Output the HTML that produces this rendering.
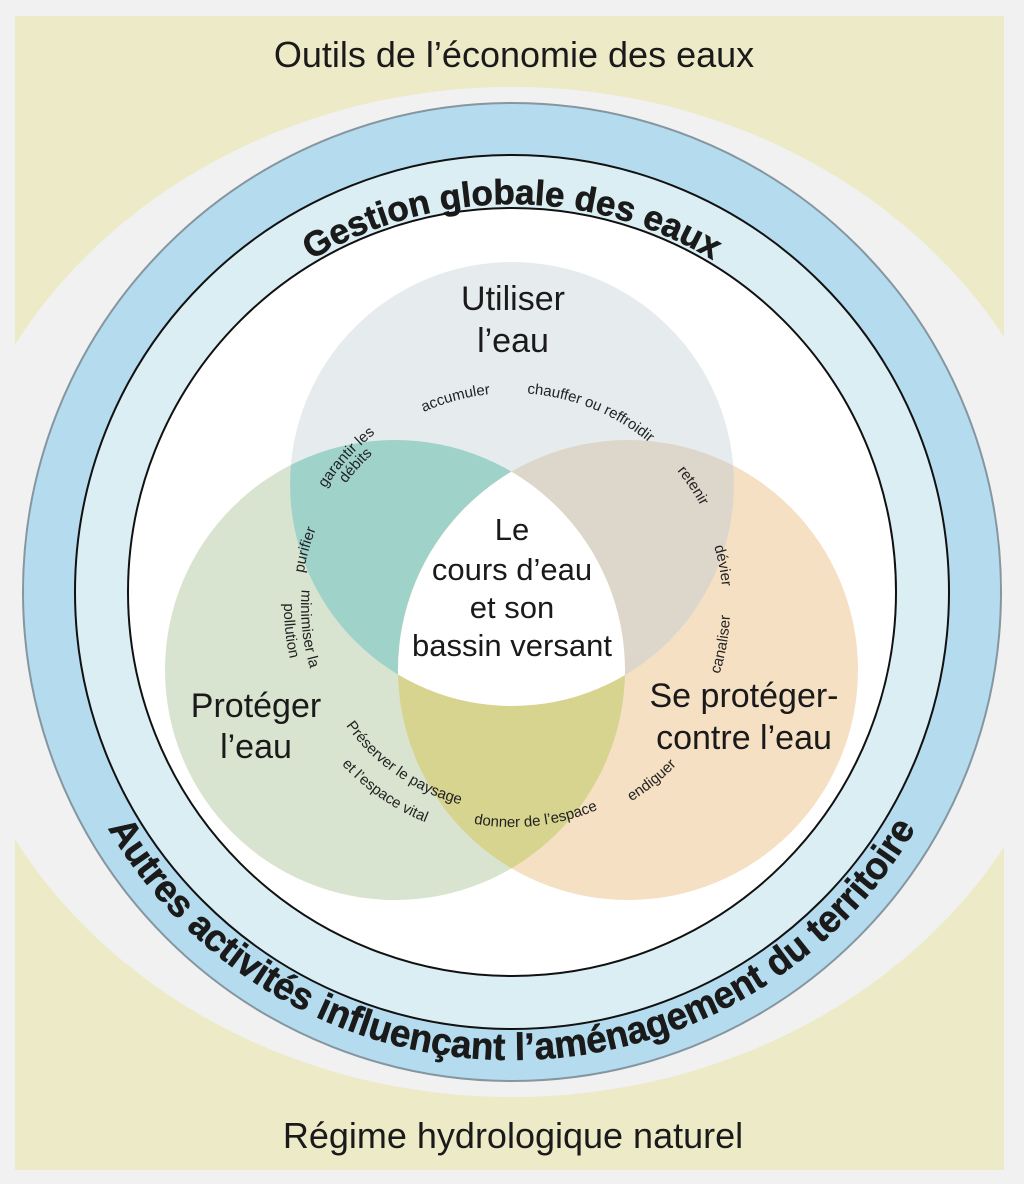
<!DOCTYPE html>
<html><head><meta charset="utf-8"><style>
html,body{margin:0;padding:0;background:#f1f1f1;}
svg{display:block;font-family:"Liberation Sans",Arial,sans-serif;}
.s{font-size:15px;fill:#222;}
</style></head><body>
<svg width="1024" height="1184" viewBox="0 0 1024 1184" xmlns="http://www.w3.org/2000/svg">
<defs>
<clipPath id="cT"><circle cx="512" cy="484" r="222"/></clipPath>
<clipPath id="cL"><circle cx="395" cy="670" r="230"/></clipPath>
<clipPath id="cR"><circle cx="628" cy="670" r="230"/></clipPath>
<path id="gTop" d="M 124,592 A 388,388 0 0 1 900,592"/>
<path id="gBot" d="M 44,592 A 468,468 0 0 0 980,592"/>
<path id="cw218" d="M 512,825 A 218,218 0 1 1 512,389 A 218,218 0 1 1 512,825"/>
<path id="cw214" d="M 512,821 A 214,214 0 1 1 512,393 A 214,214 0 1 1 512,821"/>
<path id="cw221" d="M 512,828 A 221,221 0 1 1 512,386 A 221,221 0 1 1 512,828"/>
<path id="cw207" d="M 512,814 A 207,207 0 1 1 512,400 A 207,207 0 1 1 512,814"/>
<path id="cw211" d="M 512,818 A 211,211 0 1 1 512,396 A 211,211 0 1 1 512,818"/>
<path id="ccw211" d="M 512,396 A 211,211 0 1 0 512,818 A 211,211 0 1 0 512,396"/>
<path id="ccw228" d="M 512,379 A 228,228 0 1 0 512,835 A 228,228 0 1 0 512,379"/>
<path id="ccw204" d="M 512,403 A 204,204 0 1 0 512,811 A 204,204 0 1 0 512,403"/>
<path id="ccw232" d="M 512,375 A 232,232 0 1 0 512,839 A 232,232 0 1 0 512,375"/>
<path id="ccw220" d="M 512,387 A 220,220 0 1 0 512,827 A 220,220 0 1 0 512,387"/>
<path id="ccw218" d="M 512,389 A 218,218 0 1 0 512,825 A 218,218 0 1 0 512,389"/>
</defs>
<rect width="1024" height="1184" fill="#f1f1f1"/>
<rect x="15" y="16" width="989" height="1154" fill="#edebc7"/>
<ellipse cx="512" cy="592" rx="570" ry="505" fill="#f1f1f1"/>
<rect x="0" y="1170" width="1024" height="14" fill="#f1f1f1"/>
<rect x="1004" y="0" width="20" height="1184" fill="#f1f1f1"/>
<rect x="0" y="0" width="1024" height="16" fill="#f1f1f1"/>
<circle cx="512" cy="592" r="489" fill="#b5dcee" stroke="#8596a0" stroke-width="2"/>
<circle cx="512" cy="592" r="437" fill="#daeef3" stroke="#111" stroke-width="2"/>
<circle cx="512" cy="592" r="384" fill="#fff" stroke="#111" stroke-width="2"/>

<circle cx="395" cy="670" r="230" fill="#d8e4cf"/>
<circle cx="628" cy="670" r="230" fill="#f5e0c3"/>
<circle cx="512" cy="484" r="222" fill="#e6ecee"/>
<g clip-path="url(#cT)"><circle cx="395" cy="670" r="230" fill="#9fd3ca"/><circle cx="628" cy="670" r="230" fill="#ddd6ca"/></g>
<g clip-path="url(#cL)"><circle cx="628" cy="670" r="230" fill="#d6d48e"/></g>
<g clip-path="url(#cT)"><g clip-path="url(#cL)"><circle cx="628" cy="670" r="230" fill="#fff"/></g></g>

<text x="514" y="67" font-size="36" text-anchor="middle" fill="#1a1a1a">Outils de l’économie des eaux</text>
<text x="513" y="1148" font-size="36" text-anchor="middle" fill="#1a1a1a">Régime hydrologique naturel</text>

<text font-size="35" font-weight="bold" fill="#1a1a1a" stroke="#1a1a1a" stroke-width="0.6"><textPath href="#gTop" startOffset="50%" text-anchor="middle">Gestion globale des eaux</textPath></text>
<text font-size="38" font-weight="bold" fill="#1a1a1a" stroke="#1a1a1a" stroke-width="0.6" textLength="975" lengthAdjust="spacingAndGlyphs"><textPath href="#gBot" startOffset="50%" text-anchor="middle">Autres activités influençant l’aménagement du territoire</textPath></text>

<g font-size="34" fill="#1a1a1a" text-anchor="middle">
<text x="513" y="310">Utiliser</text><text x="513" y="352">l’eau</text>
<text x="256" y="717">Protéger</text><text x="256" y="758">l’eau</text>
<text x="744" y="707">Se protéger-</text><text x="744" y="749">contre l’eau</text>
</g>
<g font-size="31" fill="#1a1a1a" text-anchor="middle">
<text x="512" y="540">Le</text>
<text x="512" y="580">cours d’eau</text>
<text x="512" y="618">et son</text>
<text x="512" y="656">bassin versant</text>
</g>

<g class="s">
<text class="s"><textPath href="#cw214" startOffset="45.8%" text-anchor="middle">accumuler</textPath></text>
<text class="s"><textPath href="#cw214" startOffset="56.1%" text-anchor="middle">chauffer ou reffroidir</textPath></text>
<text class="s"><textPath href="#cw221" startOffset="36.7%" text-anchor="middle">garantir les</textPath></text>
<text class="s"><textPath href="#cw207" startOffset="36.7%" text-anchor="middle">débits</textPath></text>
<text class="s"><textPath href="#cw211" startOffset="29.3%" text-anchor="middle">purifier</textPath></text>
<text class="s"><textPath href="#cw214" startOffset="65.6%" text-anchor="middle">retenir</textPath></text>
<text class="s"><textPath href="#cw211" startOffset="71.9%" text-anchor="middle">dévier</textPath></text>
<text class="s"><textPath href="#ccw211" startOffset="26.7%" text-anchor="middle">minimiser la</textPath></text>
<text class="s"><textPath href="#ccw228" startOffset="26.7%" text-anchor="middle">pollution</textPath></text>
<text class="s"><textPath href="#ccw204" startOffset="40.4%" text-anchor="middle">Préserver le paysage</textPath></text>
<text class="s"><textPath href="#ccw232" startOffset="40.4%" text-anchor="middle">et l’espace vital</textPath></text>
<text class="s"><textPath href="#ccw220" startOffset="51.8%" text-anchor="middle">donner de l’espace</textPath></text>
<text class="s"><textPath href="#ccw228" startOffset="60.8%" text-anchor="middle">endiguer</textPath></text>
<text class="s"><textPath href="#ccw218" startOffset="72.2%" text-anchor="middle">canaliser</textPath></text>
</g>
</svg>
</body></html>
